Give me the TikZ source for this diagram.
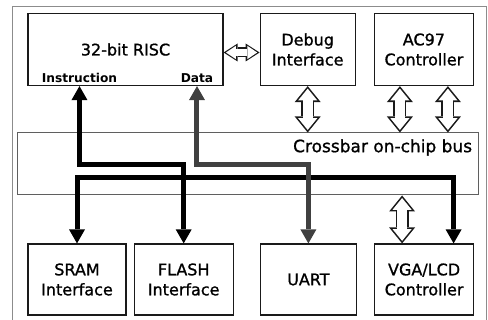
\documentclass[tikz,border=0pt]{standalone}
\usepackage{fontspec}
\setmainfont{DejaVu Sans}
\newfontfamily\socfont{DejaVu Sans}[FakeBold=1]
\usepackage{xcolor}
\usepackage{tikz}
\usetikzlibrary{arrows.meta,positioning,calc}
\definecolor{socink}{HTML}{1A1A1A}
\definecolor{socframe}{HTML}{8C8C8C}
\definecolor{socdata}{HTML}{404040}
\tikzset{
  blk/.style={draw=socink,line width=0.6pt,minimum width=49pt,minimum height=36pt,
    align=center,inner sep=1pt,font=\socfont\fontsize{8}{10}\selectfont},
  tag/.style={inner sep=0pt,font=\bfseries\fontsize{6.1}{7}\selectfont},
  bus/.style={line width=2.5pt,miter limit=4,
    {Triangle[width=8pt,length=7pt,line width=0pt]}-{Triangle[width=8pt,length=7pt,line width=0pt]}},
  hollow/.style={draw=white,line width=4.9pt,shorten <=1.27pt,shorten >=1.27pt,
    {Triangle[width=9.6pt,length=5.9pt,line width=0pt]}-{Triangle[width=9.6pt,length=5.9pt,line width=0pt]},
    preaction={draw=socink,line width=6.5pt,shorten <=0pt,shorten >=0pt,
      arrows={{Triangle[width=13pt,length=8pt,line width=0pt]}-{Triangle[width=13pt,length=8pt,line width=0pt]}}}},
  smallhollow/.style={draw=white,line width=3.4pt,shorten <=1.2pt,shorten >=1.2pt,
    {Triangle[width=6.6pt,length=4.9pt,line width=0pt]}-{Triangle[width=6.6pt,length=4.9pt,line width=0pt]},
    preaction={draw=socink,line width=5pt,shorten <=0pt,shorten >=0pt,
      arrows={{Triangle[width=9pt,length=7pt,line width=0pt]}-{Triangle[width=9pt,length=7pt,line width=0pt]}}}},
}

\begin{document}
\begin{tikzpicture}[x=0.5pt,y=-0.5pt]
\useasboundingbox (0,0) rectangle (488,320);
\draw[socframe,line width=0.5pt] (12,324) -- (12,7) -- (486,7) -- (486,324);
% top row
\node[blk,minimum width=97.5pt] (risc) at (125.5,49.5) {32-bit RISC};
\node[blk,minimum width=47.5pt,right=18pt of risc] (dbg) {Debug\\Interface};
\node[blk,minimum width=49.5pt,right=9pt of dbg] (ac97) {AC97\\Controller};
\node[tag,anchor=base west] (instr) at ([shift={(7pt,2pt)}]risc.south west) {Instruction};
\node[tag,anchor=base east] (data) at ([shift={(-5pt,2pt)}]risc.south east) {Data};
% crossbar
\node[blk,draw=socink!70,line width=0.5pt,minimum width=230.5pt,minimum height=31pt] (xbar) at (247.5,164) {};
\node[anchor=east,inner sep=0pt,font=\socfont\fontsize{8.5}{10}\selectfont] (xlab) at ([shift={(-3pt,-7.5pt)}]xbar.north east) {Crossbar on-chip bus};
% bottom row
\node[blk,minimum height=35.5pt] (sram) at (77,279.5) {SRAM\\Interface};
\node[blk,minimum width=49.5pt,minimum height=35.5pt,right=3.5pt of sram] (flash) {FLASH\\Interface};
\node[blk,minimum width=48pt,minimum height=35.5pt,right=13pt of flash] (uart) {UART};
\node[blk,minimum width=49.5pt,minimum height=35.5pt,right=8.5pt of uart] (vga) {VGA/LCD\\Controller};
\coordinate (ya) at (0,165);
\coordinate (yb) at (0,178);
% hollow links
\draw[smallhollow] ([yshift=-1.5pt]risc.east) -- ([yshift=-1.5pt]dbg.west);
\draw[hollow] (dbg.south) -- (dbg.south |- xbar.north);
\draw[hollow] ([xshift=-12pt]ac97.south) -- ([xshift=-12pt]ac97.south |- xbar.north);
\draw[hollow] ([xshift=12pt]ac97.south) -- ([xshift=12pt]ac97.south |- xbar.north);
\draw[hollow] ([xshift=-11pt]vga.north |- xbar.south) -- ([xshift=-11pt]vga.north);
% thick buses
\draw[bus] (sram.north) -- (sram.north |- yb) -| ([xshift=14.75pt]vga.north);
\draw[bus] (instr |- risc.south) -- (instr |- ya) -| (flash.north);
\draw[bus,socdata] (data |- risc.south) -- (data |- ya) -| (uart.north);
\end{tikzpicture}
\end{document}
